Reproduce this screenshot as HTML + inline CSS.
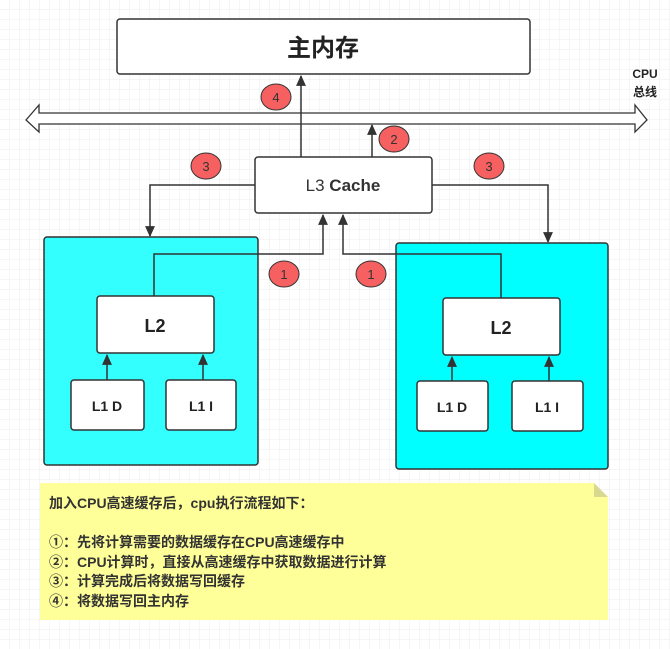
<!DOCTYPE html>
<html><head><meta charset="utf-8"><style>
html,body{margin:0;padding:0;background:#fff}
svg{display:block}
text{font-family:"Liberation Sans","Noto Sans CJK SC",sans-serif}
</style></head><body>
<svg width="670" height="649" viewBox="0 0 670 649" xmlns="http://www.w3.org/2000/svg">
<defs>
<pattern id="g" width="10" height="10" patternUnits="userSpaceOnUse">
<path d="M10 0V10M0 10H10" stroke="#ececec" stroke-width="1" fill="none"/>
</pattern>
<marker id="b" viewBox="0 0 10 10" refX="9" refY="5" markerWidth="11" markerHeight="11" orient="auto" markerUnits="userSpaceOnUse">
<path d="M0 0.5L10 5L0 9.5z" fill="#333"/>
</marker>
</defs>
<rect width="670" height="649" fill="url(#g)"/>
<g stroke="#333" stroke-width="1.5">
<rect x="117" y="19" width="413" height="55" rx="3" fill="#fff"/>
<path d="M26 120L39 105V113H635V105L647 120L635 132V124H39V132Z" fill="#fff" stroke-width="1.3"/>
<rect x="44" y="237" width="214" height="228" rx="3" fill="#33ffff"/>
<rect x="396" y="243" width="212" height="226" rx="3" fill="#00ffff"/>
<rect x="255" y="157" width="177" height="56" rx="3" fill="#fff"/>
<rect x="97" y="296" width="117" height="57" rx="3" fill="#fff"/>
<rect x="443" y="298" width="117" height="57" rx="3" fill="#fff"/>
<rect x="71" y="380" width="73" height="50" rx="3" fill="#fff"/>
<rect x="166" y="380" width="70" height="50" rx="3" fill="#fff"/>
<rect x="417" y="381" width="71" height="50" rx="3" fill="#fff"/>
<rect x="512" y="381" width="71" height="50" rx="3" fill="#fff"/>
</g>
<g stroke="#333" stroke-width="1.5" fill="none">
<path d="M301 157V76" marker-end="url(#b)"/>
<path d="M372 157V125" marker-end="url(#b)"/>
<path d="M255 185H150V236" marker-end="url(#b)"/>
<path d="M432 185H548V242" marker-end="url(#b)"/>
<path d="M154 296V254H323V215" marker-end="url(#b)"/>
<path d="M501 298V254H343V215" marker-end="url(#b)"/>
<path d="M107 380V355" marker-end="url(#b)"/>
<path d="M203 380V355" marker-end="url(#b)"/>
<path d="M452 381V357" marker-end="url(#b)"/>
<path d="M549 381V357" marker-end="url(#b)"/>
</g>
<g fill="#f66060" stroke="#333" stroke-width="1">
<ellipse cx="276" cy="97" rx="15" ry="13"/>
<ellipse cx="394" cy="139" rx="15" ry="13"/>
<ellipse cx="206" cy="166" rx="15" ry="13"/>
<ellipse cx="489" cy="166" rx="15" ry="13"/>
<ellipse cx="284" cy="274" rx="15" ry="13"/>
<ellipse cx="371" cy="274" rx="15" ry="13"/>
</g>
<g font-size="13" fill="#333" text-anchor="middle">
<text x="276" y="102">4</text><text x="394" y="144">2</text>
<text x="206" y="171">3</text><text x="489" y="171">3</text>
<text x="284" y="279">1</text><text x="371" y="279">1</text>
</g>
<g fill="#222" text-anchor="middle" font-weight="bold">
<text x="323" y="56" font-size="24">主内存</text>
<text x="645" y="78" font-size="12">CPU</text>
<text x="645" y="96" font-size="12">总线</text>
<text x="155" y="332" font-size="18">L2</text>
<text x="501" y="334" font-size="18">L2</text>
<text x="107" y="411" font-size="14">L1 D</text>
<text x="201" y="411" font-size="14">L1 I</text>
<text x="452" y="412" font-size="14">L1 D</text>
<text x="547" y="412" font-size="14">L1 I</text>
</g>
<text x="343" y="191" font-size="17" text-anchor="middle" fill="#333"><tspan font-weight="normal">L3 </tspan><tspan font-weight="bold"> Cache</tspan></text>
<path d="M40 483H594L608 497V620H40Z" fill="#ffff99"/>
<path d="M594 483L608 497H594Z" fill="#d8d890"/>
<g font-size="14" font-weight="bold" fill="#333">
<text x="49" y="508">加入CPU高速缓存后，cpu执行流程如下：</text>
<text x="49" y="547">①：先将计算需要的数据缓存在CPU高速缓存中</text>
<text x="49" y="567">②：CPU计算时，直接从高速缓存中获取数据进行计算</text>
<text x="49" y="586">③：计算完成后将数据写回缓存</text>
<text x="49" y="606">④：将数据写回主内存</text>
</g>
</svg>
</body></html>
